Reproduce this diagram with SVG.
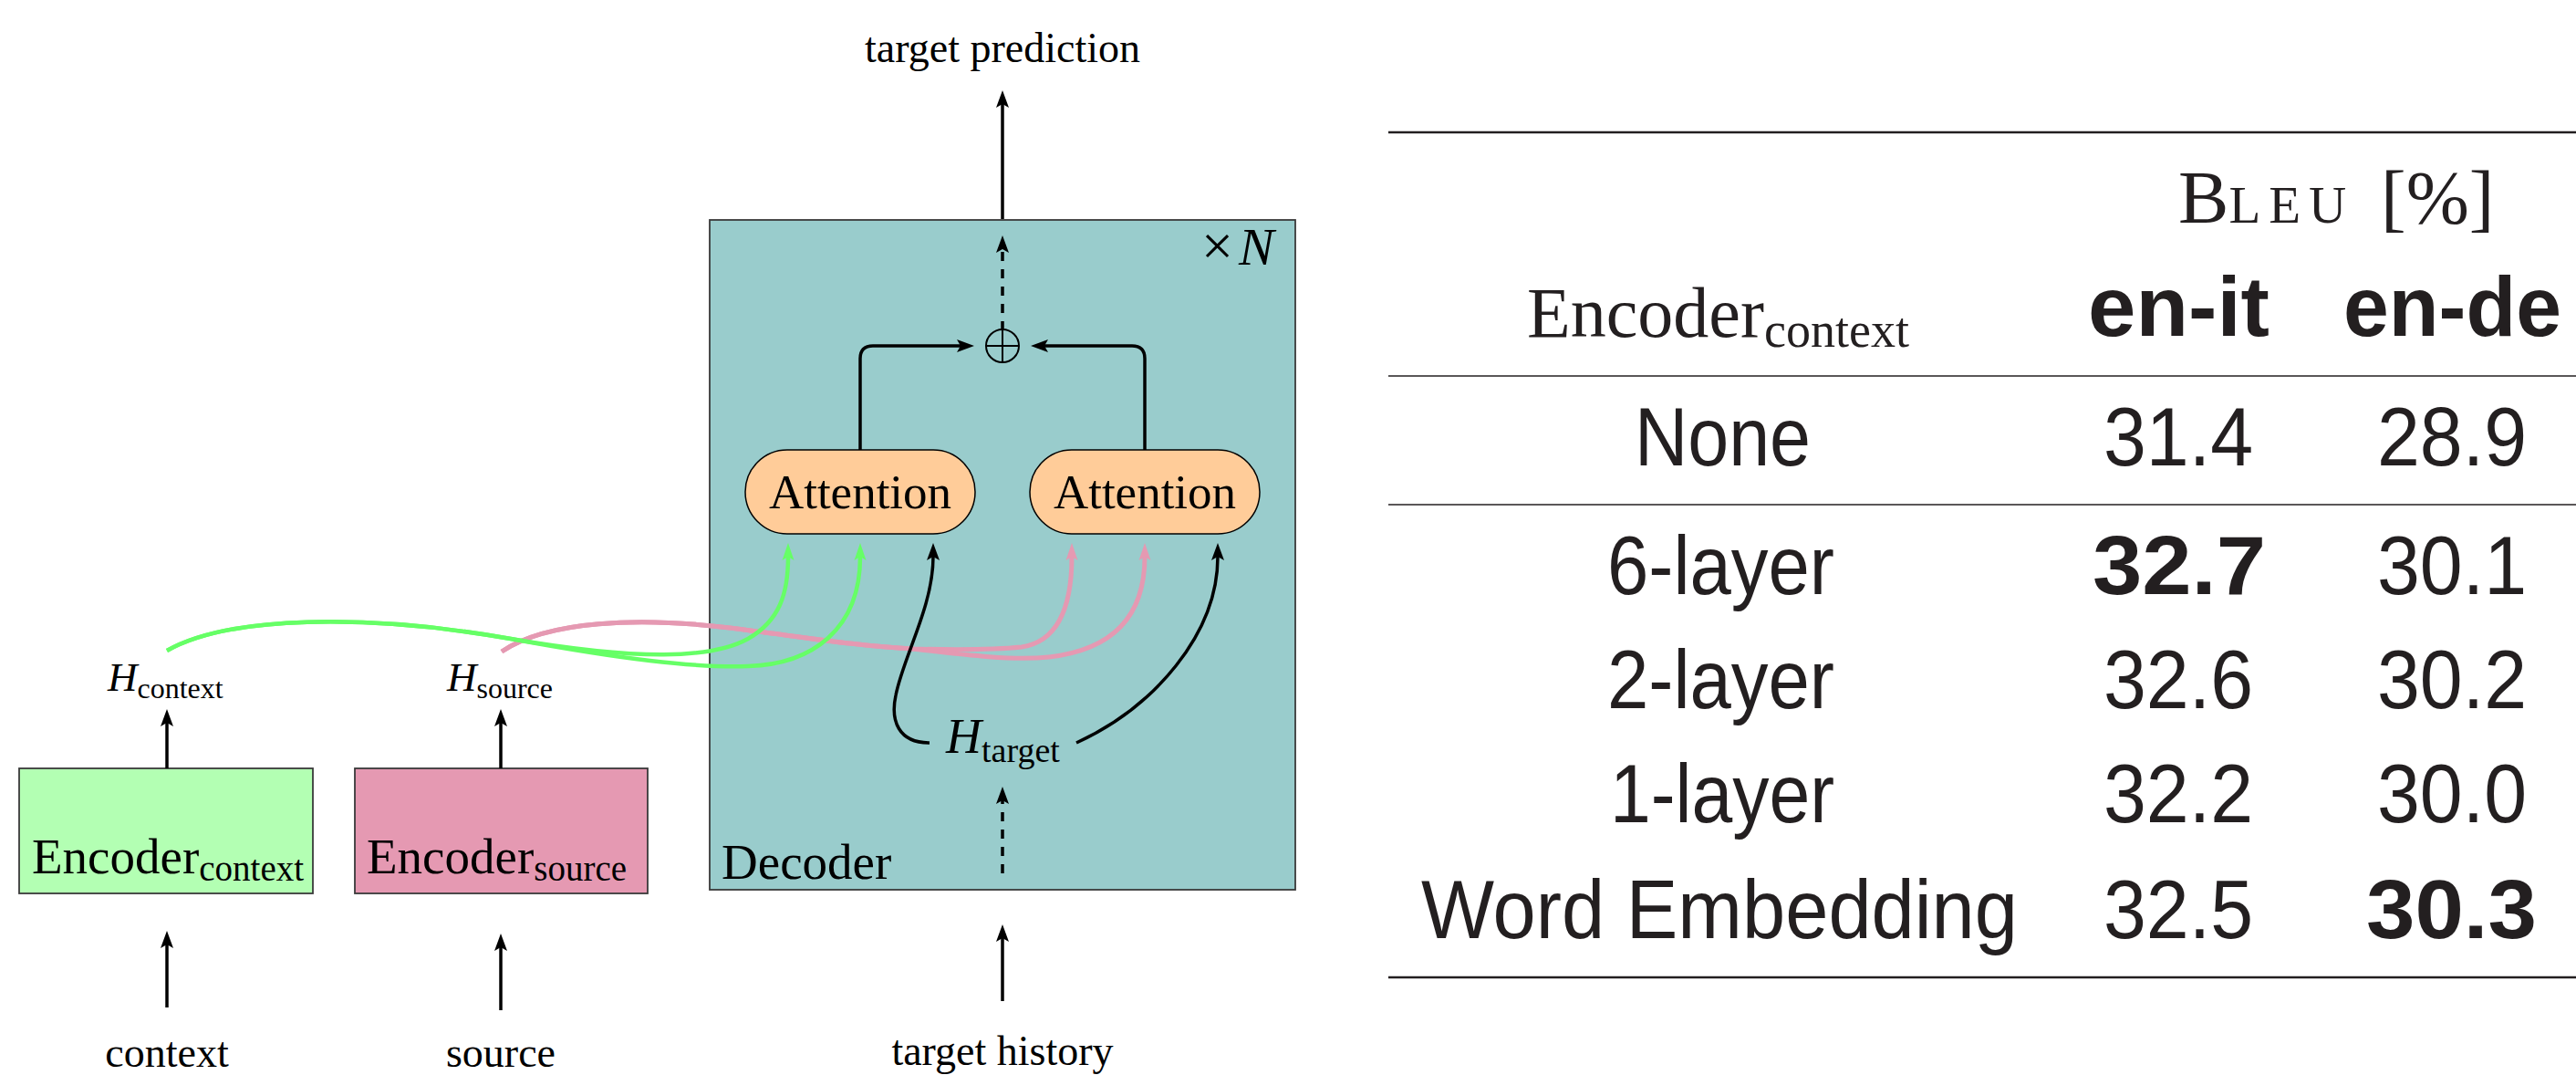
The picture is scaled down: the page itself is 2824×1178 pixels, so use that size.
<svg xmlns="http://www.w3.org/2000/svg" width="2824" height="1178" viewBox="0 0 2824 1178">
  <defs>
    <style>
      .lbl { font-family: "Liberation Serif", "Times New Roman", serif; fill: #000; }
      .it { font-style: italic; }
      .box { stroke: #3a3a3a; stroke-width: 1.8; }
      .conn { fill: none; stroke: #000; stroke-width: 3.5; }
      .dash { stroke-dasharray: 10 9; }
      .cm { font-family: "Liberation Serif", "Times New Roman", serif; fill: #231f20; }
      .ss { font-family: "Liberation Sans", Arial, sans-serif; fill: #231f20; font-size: 90px; }
      .ssb { font-family: "Liberation Sans", Arial, sans-serif; fill: #231f20; font-size: 92px; font-weight: bold; }
      .rule { stroke: #231f20; }
    </style>
    <marker id="ah" markerUnits="userSpaceOnUse" markerWidth="40" markerHeight="40" refX="0" refY="0" orient="auto" overflow="visible">
      <path d="M15,0 L-4,-7 L0,0 L-4,7 Z" fill="#000"/>
    </marker>
    <marker id="ahg" markerUnits="userSpaceOnUse" markerWidth="40" markerHeight="40" refX="0" refY="0" orient="auto" overflow="visible">
      <path d="M15,0 L-4,-6.5 L0,0 L-4,6.5 Z" fill="#66ff66"/>
    </marker>
    <marker id="ahp" markerUnits="userSpaceOnUse" markerWidth="40" markerHeight="40" refX="0" refY="0" orient="auto" overflow="visible">
      <path d="M15,0 L-4,-6.5 L0,0 L-4,6.5 Z" fill="#e599b2"/>
    </marker>
  </defs>

  <rect width="2824" height="1178" fill="#fff"/>

  <!-- model diagram -->
  <g id="decoder">
    <rect class="box" x="778" y="241" width="642" height="734" fill="#99cccc"/>
    <text class="lbl" x="791" y="963" font-size="55">Decoder</text>
    <text class="lbl" y="290"><tspan x="1317" font-size="62">×</tspan><tspan class="it" x="1358" font-size="58">N</tspan></text>
  </g>

  <g id="encoder-context">
    <rect class="box" x="21" y="842" width="322" height="137" fill="#b3ffb3"/>
    <text class="lbl" x="35" y="957" font-size="55">Encoder<tspan font-size="39" dy="8">context</tspan></text>
  </g>

  <g id="encoder-source">
    <rect class="box" x="389" y="842" width="321" height="137" fill="#e599b2"/>
    <text class="lbl" x="402" y="957" font-size="55">Encoder<tspan font-size="39" dy="8">source</tspan></text>
  </g>

  <g id="attention-context">
    <rect x="817" y="493" width="252" height="92" rx="46" ry="46" fill="#ffcc99" stroke="#000" stroke-width="1.5"/>
    <text class="lbl" x="943" y="557" font-size="53" text-anchor="middle">Attention</text>
  </g>

  <g id="attention-source">
    <rect x="1129" y="493" width="252" height="92" rx="46" ry="46" fill="#ffcc99" stroke="#000" stroke-width="1.5"/>
    <text class="lbl" x="1255" y="557" font-size="53" text-anchor="middle">Attention</text>
  </g>

  <g id="sum">
    <circle cx="1099" cy="379" r="18" fill="none" stroke="#000" stroke-width="2"/>
    <path d="M1081,379 H1117 M1099,361 V397" stroke="#000" stroke-width="2"/>
  </g>

  <g id="h-context">
    <text class="lbl" x="118" y="757" font-size="45"><tspan class="it">H</tspan><tspan font-size="32" dy="8">context</tspan></text>
  </g>
  <g id="h-source">
    <text class="lbl" x="490" y="757" font-size="45"><tspan class="it">H</tspan><tspan font-size="32" dy="8">source</tspan></text>
  </g>
  <g id="h-target">
    <text class="lbl" x="1037" y="825" font-size="54"><tspan class="it">H</tspan><tspan font-size="38" dy="10">target</tspan></text>
  </g>

  <g id="in-context"><text class="lbl" x="183" y="1169" font-size="46" text-anchor="middle">context</text></g>
  <g id="in-source"><text class="lbl" x="549" y="1169" font-size="46" text-anchor="middle">source</text></g>
  <g id="in-target-history"><text class="lbl" x="1099" y="1167" font-size="46" text-anchor="middle">target history</text></g>
  <g id="out-target-prediction"><text class="lbl" x="1099" y="68" font-size="46" text-anchor="middle">target prediction</text></g>

  <g id="connectors">
    <!-- inputs and encoder outputs -->
    <path class="conn" d="M183,1104 V1035" marker-end="url(#ah)"/>
    <path class="conn" d="M549,1107 V1038" marker-end="url(#ah)"/>
    <path class="conn" d="M1099,1097 V1028" marker-end="url(#ah)"/>
    <path class="conn" d="M183,842 V792" marker-end="url(#ah)"/>
    <path class="conn" d="M549,842 V792" marker-end="url(#ah)"/>
    <path class="conn" d="M1099,240 V114" marker-end="url(#ah)"/>
    <!-- stacked layers inside the decoder -->
    <path class="conn dash" d="M1099,362 V273" marker-end="url(#ah)"/>
    <path class="conn dash" d="M1099,957 V877" marker-end="url(#ah)"/>
    <!-- attention outputs into the sum -->
    <path class="conn" d="M943,493 V393 Q943,379 957,379 H1053" marker-end="url(#ah)"/>
    <path class="conn" d="M1255,493 V393 Q1255,379 1241,379 H1145" marker-end="url(#ah)"/>
    <!-- H_source into the second attention -->
    <path d="M550,714 C600,680 700,676 800,688 C880,698 940,708 1000,711 C1040,712 1090,712 1120,709 C1160,703 1175,665 1175,610" fill="none" stroke="#e599b2" stroke-width="5" marker-end="url(#ahp)"/>
    <path d="M550,714 C600,680 700,676 800,688 C880,698 940,708 1000,711 C1060,718 1110,724 1150,720 C1220,712 1255,675 1255,610" fill="none" stroke="#e599b2" stroke-width="5" marker-end="url(#ahp)"/>
    <!-- H_context into the first attention -->
    <path d="M183,713 C250,675 400,672 560,700 C700,724 780,722 820,700 C855,680 864,650 864,610" fill="none" stroke="#66ff66" stroke-width="4.5" marker-end="url(#ahg)"/>
    <path d="M183,713 C250,675 400,672 560,700 C680,722 760,732 820,730 C890,728 943,690 943,610" fill="none" stroke="#66ff66" stroke-width="4.5" marker-end="url(#ahg)"/>
    <!-- H_target queries -->
    <path class="conn" d="M1019,814 C985,814 976,790 982,762 C990,720 1023,665 1023,610" marker-end="url(#ah)"/>
    <path class="conn" d="M1180,814 C1265,775 1335,695 1335,610" marker-end="url(#ah)"/>
  </g>

  <!-- results table -->
  <g id="table">
    <line class="rule" x1="1522" y1="145" x2="2824" y2="145" stroke-width="2.6"/>
    <line class="rule" x1="1522" y1="412" x2="2824" y2="412" stroke-width="1.6"/>
    <line class="rule" x1="1522" y1="553" x2="2824" y2="553" stroke-width="1.6"/>
    <line class="rule" x1="1522" y1="1071" x2="2824" y2="1071" stroke-width="2.6"/>

    <text class="cm" font-size="83"><tspan x="2388" y="244">B</tspan><tspan font-size="57" letter-spacing="9">LEU</tspan><tspan x="2610" y="244">[%]</tspan></text>
    <text class="cm" x="1674" y="369" font-size="79"><tspan textLength="260" lengthAdjust="spacingAndGlyphs">Encoder</tspan><tspan x="1934" y="380" font-size="54">context</tspan></text>
    <text class="ssb" x="2289" y="368" textLength="199" lengthAdjust="spacingAndGlyphs">en-it</text>
    <text class="ssb" x="2569" y="368" textLength="239" lengthAdjust="spacingAndGlyphs">en-de</text>

    <text class="ss" x="1792" y="510" textLength="193" lengthAdjust="spacingAndGlyphs">None</text>
    <text class="ss" x="2306" y="510" textLength="164" lengthAdjust="spacingAndGlyphs">31.4</text>
    <text class="ss" x="2606" y="510" textLength="164" lengthAdjust="spacingAndGlyphs">28.9</text>

    <text class="ss" x="1762" y="651" textLength="249" lengthAdjust="spacingAndGlyphs">6-layer</text>
    <text class="ss" x="2294" y="651" textLength="190" lengthAdjust="spacingAndGlyphs" font-weight="bold">32.7</text>
    <text class="ss" x="2606" y="651" textLength="164" lengthAdjust="spacingAndGlyphs">30.1</text>

    <text class="ss" x="1762" y="776" textLength="249" lengthAdjust="spacingAndGlyphs">2-layer</text>
    <text class="ss" x="2306" y="776" textLength="164" lengthAdjust="spacingAndGlyphs">32.6</text>
    <text class="ss" x="2606" y="776" textLength="164" lengthAdjust="spacingAndGlyphs">30.2</text>

    <text class="ss" x="1765" y="901" textLength="246" lengthAdjust="spacingAndGlyphs">1-layer</text>
    <text class="ss" x="2306" y="901" textLength="164" lengthAdjust="spacingAndGlyphs">32.2</text>
    <text class="ss" x="2606" y="901" textLength="164" lengthAdjust="spacingAndGlyphs">30.0</text>

    <text class="ss" x="1558" y="1028" textLength="654" lengthAdjust="spacingAndGlyphs">Word Embedding</text>
    <text class="ss" x="2306" y="1028" textLength="164" lengthAdjust="spacingAndGlyphs">32.5</text>
    <text class="ss" x="2594" y="1028" textLength="187" lengthAdjust="spacingAndGlyphs" font-weight="bold">30.3</text>
  </g>
</svg>
